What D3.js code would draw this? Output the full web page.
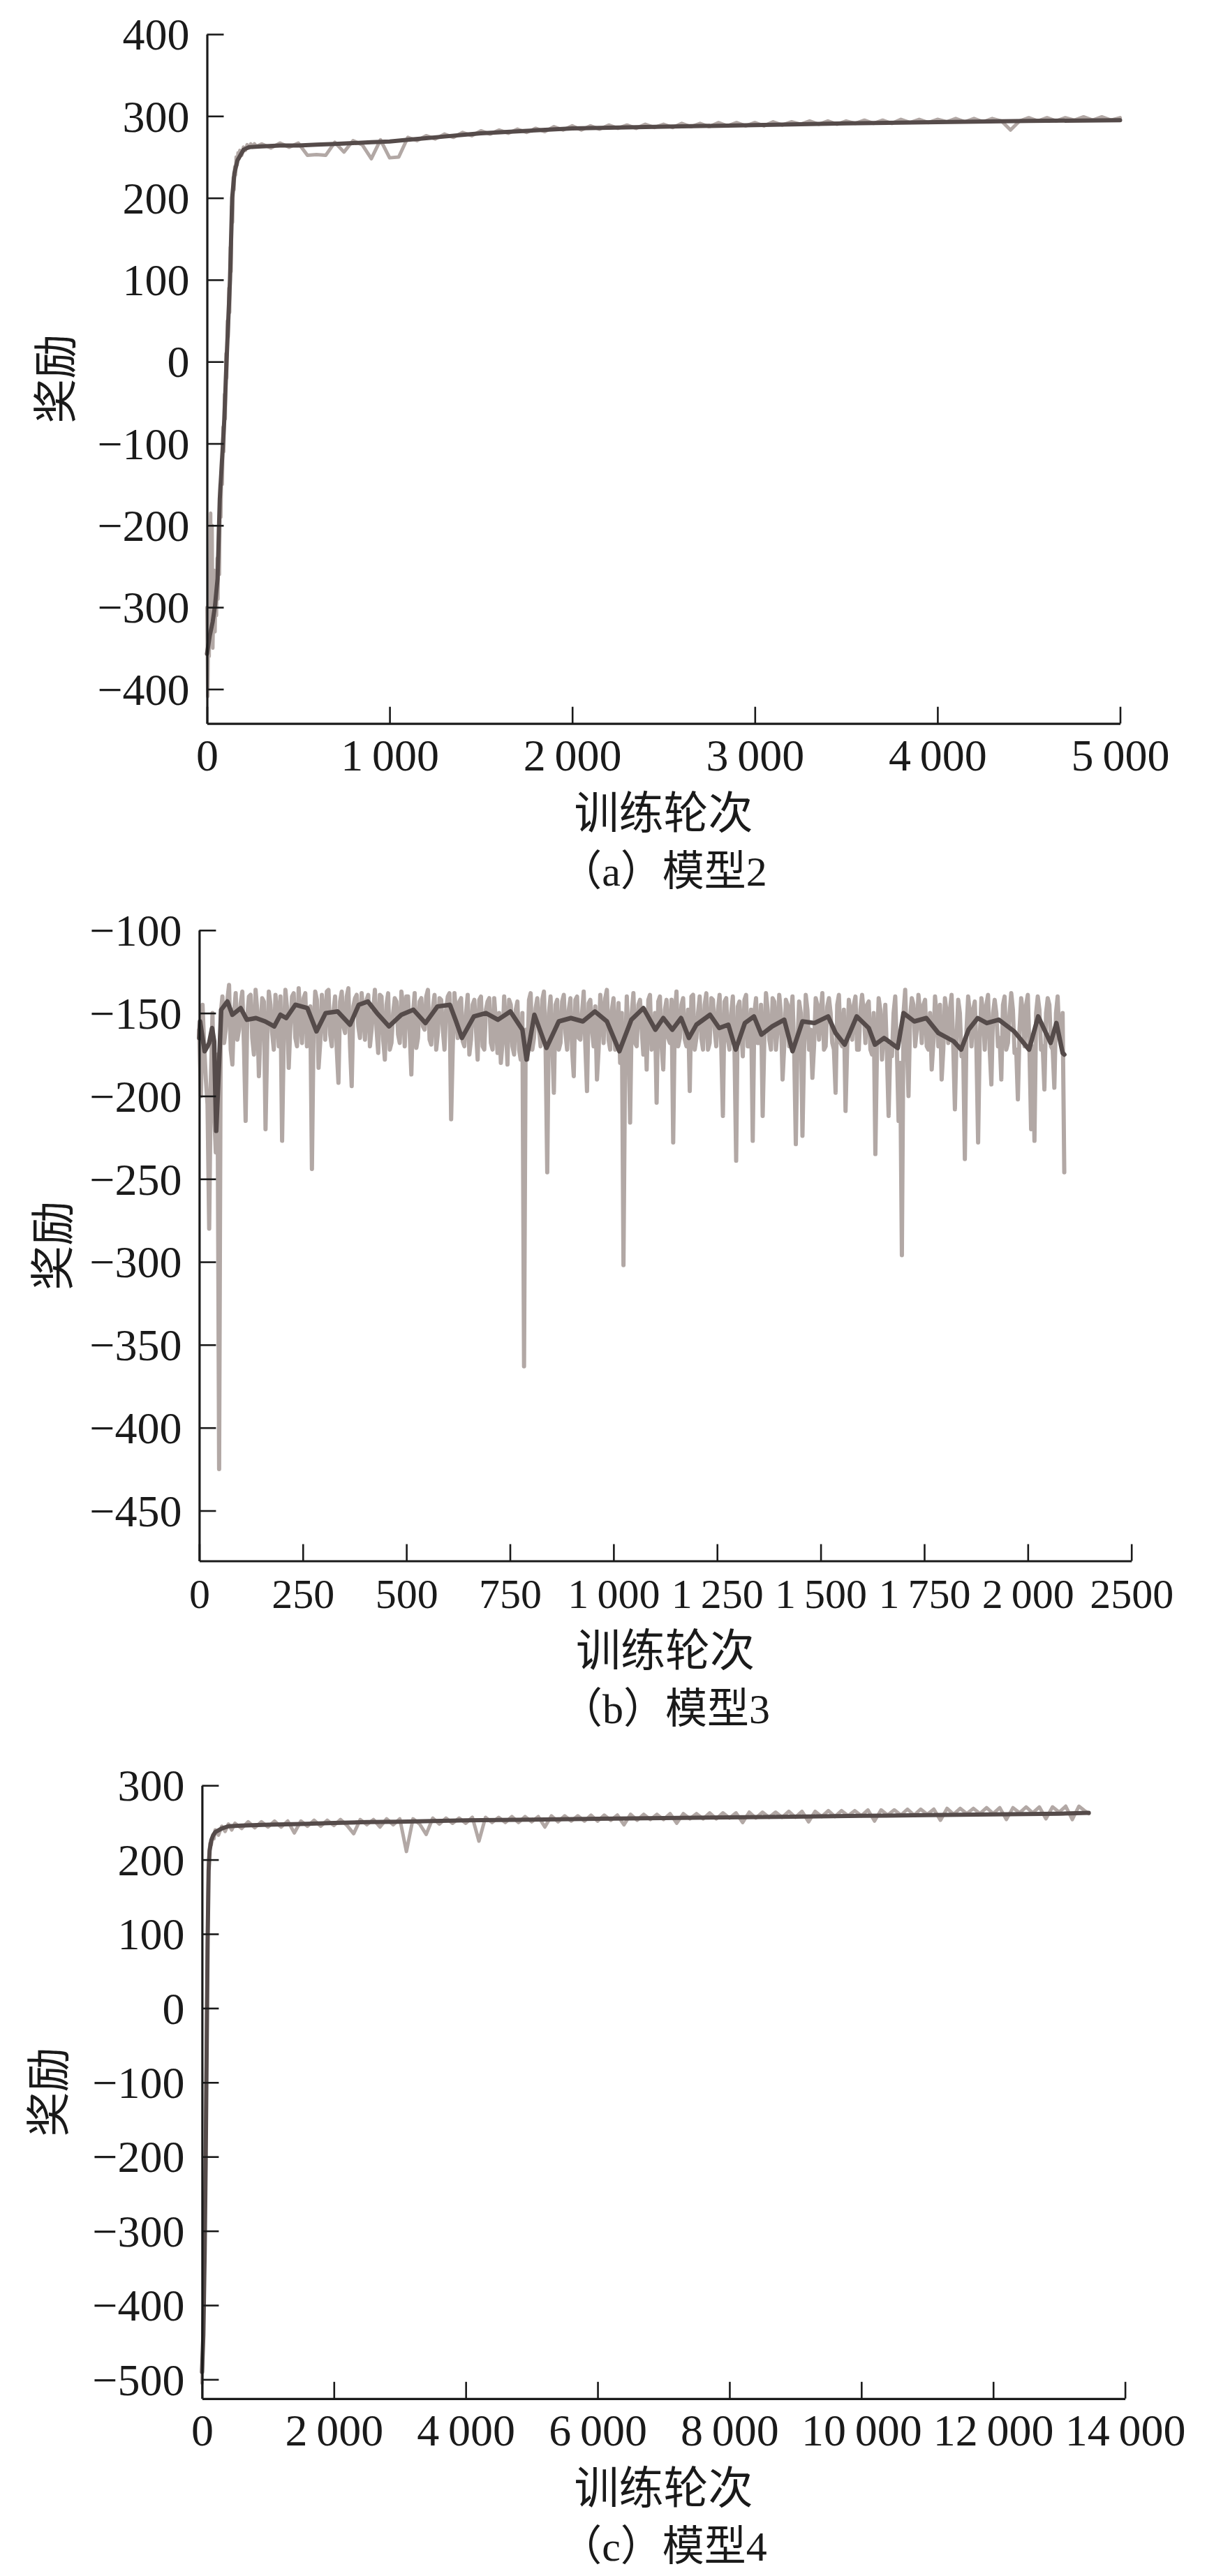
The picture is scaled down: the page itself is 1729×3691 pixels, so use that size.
<!DOCTYPE html>
<html>
<head>
<meta charset="utf-8">
<script src="https://cdn.jsdelivr.net/npm/d3@7"></script>
<style>
html,body{margin:0;padding:0;background:#fff;}
svg{display:block;}
</style>
</head>
<body>
<div id="chart"></div>
<script>
// ---------------- DATA ----------------
// Panel (a) 模型2
const aYTicks = [-400,-300,-200,-100,0,100,200,300,400];
const aYLabels = ["\u2212400","\u2212300","\u2212200","\u2212100","0","100","200","300","400"];
const aXTicks = [0,1000,2000,3000,4000,5000];
const aXLabels = ["0","1\u2009000","2\u2009000","3\u2009000","4\u2009000","5\u2009000"];
const aRawEp = [0,4,8,12,16,20,24,28,32,36,40,44,48,52,56,60,64,68,72,76,80,84,88,92,96,100,104,108,112,116,120,124,128,132,136,140,144,148,152,156,160,165,170,175,180,190,200,210,220,230,240,250,260,270,
300,350,400,450,500,550,600,650,700,750,800,850,900,950,1000,1050,1100,1150,1200,1250,1300,1350,1400,1450,1500,1550,1600,1650,1700,1750,1800,1850,1900,1950,2000,2050,2100,2150,2200,2250,2300,2350,2400,2450,2500,2550,2600,2650,2700,2750,2800,2850,2900,2950,3000,3050,3100,3150,3200,3250,3300,3350,3400,3450,3500,3550,3600,3650,3700,3750,3800,3850,3900,3950,4000,4050,4100,4150,4200,4250,4300,4350,4400,4450,4500,4550,4600,4650,4700,4750,4800,4850,4900,4950,5000];
const aRaw = [-300,-409,-330,-360,-250,-185,-340,-200,-350,-300,-255,-330,-280,-310,-240,-290,-200,-260,-150,-190,-120,-150,-80,-110,-40,-70,10,-20,50,30,90,60,140,110,190,170,225,210,238,228,250,240,255,248,258,252,262,258,265,261,266,262,266,263,
266,261,267,262,267,252,253,252,268,256,270,265,248,271,249,250,274,270,276,272,278,274,280,276,282,278,283,279,284,280,285,281,287,283,288,283,288,284,289,285,289,285,290,286,290,286,291,287,291,287,292,288,292,288,292,288,293,289,293,290,294,290,294,290,294,291,295,291,295,291,296,292,296,292,296,293,297,293,297,293,297,294,283,294,298,294,298,294,298,295,299,295,299,295,298];
const aSmoothEp = [0,15,31,44,58,70,87,95,107,126,138,150,167,185,201,230,300,400,500,600,700,800,900,1000,1100,1200,1300,1400,1500,1750,2000,2500,3000,3500,4000,4500,5000];
const aSmooth = [-357,-335,-318,-298,-265,-168,-102,-70,0,100,200,230,246,253,259,262,263,264,264,265,266,267,268,269,271,273,275,277,279,282,285,287,289,291,292.5,294,295];

// Panel (b) 模型3
const bYTicks = [-450,-400,-350,-300,-250,-200,-150,-100];
const bYLabels = ["\u2212450","\u2212400","\u2212350","\u2212300","\u2212250","\u2212200","\u2212150","\u2212100"];
const bXTicks = [0,250,500,750,1000,1250,1500,1750,2000,2250];
const bXLabels = ["0","250","500","750","1\u2009000","1\u2009250","1\u2009500","1\u2009750","2\u2009000","2500"];
const bRawStep = 8; // samples at episodes 0, 8, 16, ...
const bRaw = [
-160,-145,-190,-280,-150,-234,-425,-140,-160,-133,
-181,-138,-160,-137,-215,-140,-165,-136,-188,-141,
-220,-137,-162,-139,-170,-227,-136,-183,-140,-165,
-135,-168,-138,-160,-244,-137,-183,-139,-166,-136,
-170,-140,-192,-137,-162,-135,-194,-141,-158,-138,
-166,-139,-160,-136,-174,-140,-178,-138,-168,-141,
-163,-137,-170,-140,-187,-138,-165,-141,-160,-136,
-169,-139,-162,-142,-172,-140,-214,-138,-165,-141,
-170,-139,-166,-142,-178,-140,-172,-143,-168,-141,
-174,-180,-140,-181,-145,-175,-143,-178,-363,-178,
-138,-165,-141,-170,-137,-246,-140,-198,-142,-168,
-139,-172,-141,-188,-140,-166,-137,-197,-142,-170,
-190,-139,-168,-136,-172,-141,-165,-180,-302,-140,
-216,-138,-170,-142,-175,-184,-139,-168,-204,-140,
-184,-142,-168,-228,-137,-165,-141,-170,-197,-139,
-165,-140,-172,-138,-168,-142,-170,-139,-212,-141,
-172,-140,-239,-143,-176,-139,-170,-227,-141,-168,
-212,-138,-166,-141,-172,-139,-190,-142,-170,-140,
-229,-143,-224,-139,-172,-189,-141,-166,-138,-170,
-141,-168,-198,-139,-170,-209,-142,-166,-140,-172,
-139,-168,-143,-175,-235,-141,-178,-145,-212,-176,
-140,-215,-296,-136,-200,-141,-170,-139,-168,-142,
-172,-184,-140,-170,-190,-141,-168,-139,-208,-142,
-176,-238,-140,-170,-143,-228,-141,-172,-139,-193,
-142,-170,-190,-140,-168,-138,-174,-202,-141,-170,
-139,-220,-227,-140,-172,-196,-141,-170,-195,-140,
-168,-246];
// samples at episodes 4, 12, 20, ... (between the ones above)
const bRawMid = [
-200,-170,-205,-190,-210,-175,-150,-168,-142,-172,
-150,-166,-144,-170,-152,-139,-175,-148,-160,-143,
-168,-145,-172,-150,-140,-165,-147,-158,-138,-170,
-152,-141,-170,-146,-160,-142,-168,-150,-137,-163,
-149,-172,-143,-158,-140,-170,-146,-139,-165,-150,
-142,-170,-148,-160,-139,-166,-145,-172,-150,-143,
-168,-146,-140,-162,-150,-171,-143,-158,-140,-166,
-147,-172,-141,-160,-148,-138,-170,-150,-143,-167,
-150,-175,-145,-160,-142,-170,-148,-141,-172,-155,
-150,-168,-157,-142,-170,-148,-172,-150,-160,-142,
-172,-147,-160,-142,-170,-150,-168,-145,-172,-143,
-162,-148,-172,-142,-165,-150,-170,-144,-160,-146,
-172,-150,-141,-166,-148,-172,-144,-150,-175,-165,
-150,-168,-145,-160,-148,-142,-172,-150,-143,-170,
-148,-165,-142,-150,-170,-145,-166,-148,-140,-172,
-150,-165,-145,-172,-141,-160,-148,-170,-143,-166,
-150,-172,-146,-160,-142,-170,-148,-150,-168,-145,
-166,-148,-172,-143,-160,-150,-170,-145,-152,-172,
-168,-150,-172,-148,-160,-170,-145,-150,-172,-146,
-150,-172,-145,-168,-148,-170,-150,-145,-172,-148,
-150,-145,-172,-150,-170,-148,-160,-175,-170,-150,
-172,-180,-150,-168,-152,-145,-160,-150,-145,-170,
-150,-168,-152,-145,-172,-150,-148,-170,-165,-150,
-172,-160,-150,-148,-172,-165,-150,-145,-172,-150,
-150,-165,-145,-172,-150,-148,-172,-160,-150,-145,
-172,-170,-150,-148,-170,-150,-145,-172,-150,-165,
-150];
const bSmoothEp = [0,2,13,20,24,31,36,41,48,53,68,80,100,115,137,159,181,196,210,232,261,283,305,334,364,385,407,429,458,488,517,546,575,605,620,634,663,692,721,751,780,790,809,838,868,897,926,955,984,1014,1043,1072,1101,1120,1142,1163,1182,1200,1233,1255,1277,1295,1317,1339,1357,1383,1412,1432,1456,1485,1518,1536,1558,1587,1616,1631,1653,1686,1700,1726,1755,1784,1821,1839,1857,1879,1901,1930,1967,2003,2025,2055,2069,2084,2088];
const bSmooth = [-165,-155,-173,-170,-168,-159,-167,-221,-180,-148,-143,-151,-147,-154,-153,-155,-158,-151,-153,-145,-147,-161,-150,-149,-157,-145,-143,-150,-158,-151,-148,-156,-146,-145,-155,-165,-152,-150,-154,-149,-160,-178,-151,-171,-155,-153,-155,-149,-155,-173,-154,-147,-160,-153,-160,-153,-165,-157,-151,-159,-157,-172,-156,-152,-163,-158,-154,-173,-155,-156,-152,-162,-169,-152,-159,-169,-165,-171,-150,-155,-153,-162,-167,-172,-160,-153,-156,-154,-161,-172,-152,-168,-156,-174,-175];

// Panel (c) 模型4
const cYTicks = [-500,-400,-300,-200,-100,0,100,200,300];
const cYLabels = ["\u2212500","\u2212400","\u2212300","\u2212200","\u2212100","0","100","200","300"];
const cXTicks = [0,2000,4000,6000,8000,10000,12000,14000];
const cXLabels = ["0","2\u2009000","4\u2009000","6\u2009000","8\u2009000","10\u2009000","12\u2009000","14\u2009000"];
const cRawEp = [0,10,20,30,40,50,60,70,80,90,100,110,120,140,160,180,200,250,300,350,400,450,500,
600,700,800,900,1000,1100,1200,1300,1400,1500,1600,1700,1800,1900,2000,2100,2200,2300,2400,2500,2600,2700,2800,2900,3000,3100,3200,3300,3400,3500,3600,3700,3800,3900,4000,4100,4200,4300,4400,4500,4600,4700,4800,4900,5000,5100,5200,5300,5400,5500,5600,5700,5800,5900,6000,6100,6200,6300,6400,6500,6600,6700,6800,6900,7000,7100,7200,7300,7400,7500,7600,7700,7800,7900,8000,8100,8200,8300,8400,8500,8600,8700,8800,8900,9000,9100,9200,9300,9400,9500,9600,9700,9800,9900,10000,10100,10200,10300,10400,10500,10600,10700,10800,10900,11000,11100,11200,11300,11400,11500,11600,11700,11800,11900,12000,12100,12200,12300,12400,12500,12600,12700,12800,12900,13000,13100,13200,13300,13400,13450];
const cRaw = [-505,-470,-420,-360,-290,-210,-120,-30,60,140,195,210,222,220,232,228,240,233,245,238,248,240,249,
242,251,243,251,244,252,244,252,236,252,245,253,245,253,246,254,246,235,254,247,254,244,255,247,255,211,255,248,234,256,248,256,249,256,249,257,225,257,250,257,250,258,250,258,251,258,244,259,251,259,252,259,252,260,252,260,253,260,247,261,253,261,254,261,254,262,249,262,255,262,255,263,255,263,256,263,250,264,256,264,257,264,257,265,257,265,251,265,258,266,258,266,259,266,259,267,252,267,260,267,260,268,260,268,261,268,253,269,261,269,262,269,262,270,262,270,254,270,263,271,263,271,255,271,264,272,254,272,265,262];
const cSmoothEp = [0,20,40,55,70,85,100,115,140,170,200,300,400,600,1000,1500,2000,2500,3000,4000,5000,6000,7000,8000,9000,10000,11000,12000,13000,13450];
const cSmooth = [-490,-440,-330,-210,-60,90,185,212,226,233,237,242,245,246,247,248,249.5,250.5,251,253,254,255,256,257,258,259,260,261,262,263];

// ---------------- DRAWING ----------------
const W = 1729, H = 3691;
const LIGHT = "#b2a8a5", DARK = "#554b4a", INK = "#1a1a1a";
const NUMFONT = "'Liberation Serif','Times New Roman',serif";
const CJKFONT = "'Noto Sans CJK SC','Noto Sans CJK JP',sans-serif";

const svg = d3.select("#chart").append("svg")
  .attr("width", W).attr("height", H).attr("viewBox", `0 0 ${W} ${H}`);
svg.append("rect").attr("width", W).attr("height", H).attr("fill", "#fff");

function panel(cfg) {
  const x = d3.scaleLinear().domain(cfg.xDomain).range(cfg.xRange);
  const y = d3.scaleLinear().domain(cfg.yDomain).range(cfg.yRange);
  const g = svg.append("g");

  const line = d3.line().x(d => x(d[0])).y(d => y(d[1]));
  g.append("path").datum(cfg.raw)
    .attr("d", line).attr("fill", "none").attr("stroke", LIGHT)
    .attr("stroke-width", cfg.rawWidth).attr("stroke-linejoin", "round").attr("stroke-linecap", "round");
  g.append("path").datum(cfg.smooth)
    .attr("d", line).attr("fill", "none").attr("stroke", DARK)
    .attr("stroke-width", cfg.smoothWidth).attr("stroke-linejoin", "round").attr("stroke-linecap", "round");

  // y axis
  const yAxis = d3.axisLeft(y).tickValues(cfg.yTicks)
    .tickFormat((d, i) => cfg.yLabels[i]).tickSizeInner(-24).tickSizeOuter(0).tickPadding(25);
  const ya = g.append("g").attr("transform", `translate(${cfg.xRange[0]},0)`).call(yAxis);
  // x axis
  const xAxis = d3.axisBottom(x).tickValues(cfg.xTicks)
    .tickFormat((d, i) => cfg.xLabels[i]).tickSizeInner(-24).tickSizeOuter(0).tickPadding(0);
  const xa = g.append("g").attr("transform", `translate(0,${cfg.yRange[0]})`).call(xAxis);

  [ya, xa].forEach(a => {
    a.select(".domain").attr("stroke", INK).attr("stroke-width", 3.2);
    a.selectAll(".tick line").attr("stroke", INK).attr("stroke-width", 2.6);
    a.selectAll("text").attr("fill", INK).style("font-family", NUMFONT).style("font-size", "64px");
  });
  ya.selectAll("text").attr("dy", "0.34em");
  xa.selectAll("text").attr("y", 67).attr("dy", 0).style("font-size", cfg.xFont + "px");

  // axis titles
  g.append("text").attr("x", (cfg.xRange[0] + cfg.xRange[1]) / 2).attr("y", cfg.yRange[0] + 150)
    .attr("text-anchor", "middle").style("font-family", CJKFONT).style("font-size", "64px")
    .attr("fill", INK).text("训练轮次");
  g.append("text")
    .attr("transform", `translate(${cfg.yTitleX},${(cfg.yRange[0] + cfg.yRange[1]) / 2}) rotate(-90)`)
    .attr("text-anchor", "middle").attr("dy", "0.36em")
    .style("font-family", CJKFONT).style("font-size", "64px").attr("fill", INK).text("奖励");
  // caption
  g.append("text").attr("x", (cfg.xRange[0] + cfg.xRange[1]) / 2).attr("y", cfg.yRange[0] + 232)
    .attr("text-anchor", "middle").style("font-family", NUMFONT + "," + CJKFONT).style("font-size", "60px")
    .attr("fill", INK).text(cfg.caption);
}

panel({
  xDomain: [0, 5000], xRange: [296.5, 1604.5],
  yDomain: [-442, 400], yRange: [1036.7, 49],
  yTicks: aYTicks, yLabels: aYLabels, xTicks: aXTicks, xLabels: aXLabels,
  raw: aRawEp.map((e, i) => [e, aRaw[i]]),
  smooth: aSmoothEp.map((e, i) => [e, aSmooth[i]]),
  rawWidth: 5, smoothWidth: 6, yTitleX: 79, caption: "（a）模型2", xFont: 64
});

const bRawPts = [];
bRaw.forEach((v, i) => {
  bRawPts.push([i * bRawStep, v]);
  if (i < bRawMid.length) bRawPts.push([i * bRawStep + bRawStep / 2, bRawMid[i]]);
});
panel({
  xDomain: [0, 2250], xRange: [285.4, 1620.7],
  yDomain: [-480.3, -100], yRange: [2236.5, 1332.8],
  yTicks: bYTicks, yLabels: bYLabels, xTicks: bXTicks, xLabels: bXLabels,
  raw: bRawPts,
  smooth: bSmoothEp.map((e, i) => [e, bSmooth[i]]),
  rawWidth: 6, smoothWidth: 6.5, yTitleX: 75, caption: "（b）模型3", xFont: 60
});

panel({
  xDomain: [0, 14000], xRange: [289.4, 1611.6],
  yDomain: [-525.8, 300], yRange: [3436.8, 2558.2],
  yTicks: cYTicks, yLabels: cYLabels, xTicks: cXTicks, xLabels: cXLabels,
  raw: cRawEp.map((e, i) => [e, cRaw[i]]),
  smooth: cSmoothEp.map((e, i) => [e, cSmooth[i]]),
  rawWidth: 5, smoothWidth: 6, yTitleX: 69, caption: "（c）模型4", xFont: 64
});
</script>
</body>
</html>
